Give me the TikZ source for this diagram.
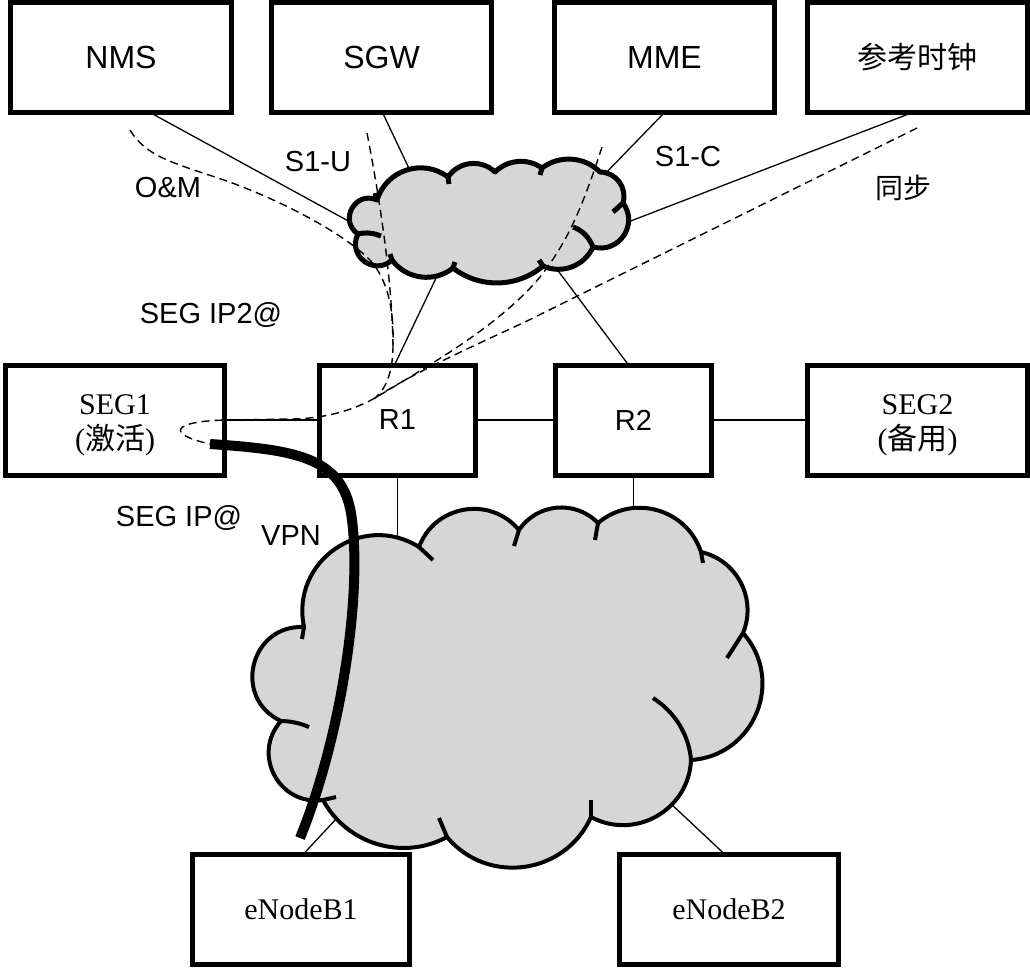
\documentclass[tikz,border=0pt]{standalone}
\usepackage{fontspec}
\setmainfont{Liberation Serif}
\setsansfont{Liberation Sans}
\newfontfamily\cjk{Noto Sans CJK SC}
\usetikzlibrary{calc}
\definecolor{cloudgray}{gray}{0.84}
\tikzset{
  bump/.code={\pgfmathsetmacro\bumpL{0.851/(cos(#1/2)^2)}%
    \edef\bumptmp{\noexpand\pgfkeysalso{bend left=#1,looseness=\bumpL}}\bumptmp},
  box/.style={draw, line width=5pt, inner sep=0pt, outer sep=0pt,
    minimum width=#1, minimum height=110pt, align=center},
  bigsans/.style={font=\sffamily\fontsize{32}{38}\selectfont},
  sans/.style={font=\sffamily\fontsize{29}{34}\selectfont},
  serif/.style={font=\fontsize{30}{35}\selectfont},
  twoline/.style={label={[serif, align=center, yshift=-5pt]center:#1}},
  cn/.style={font=\cjk\fontsize{28}{34}\selectfont},
  link/.style={line width=1.3pt},
  dsh/.style={line width=1.4pt, dash pattern=on 8pt off 5pt},
  vpn/.style={line width=10pt},
  cloudA/.style={draw, fill=cloudgray, line width=5pt, line join=round},
  cloudB/.style={draw, fill=cloudgray, line width=4pt, line join=round},
  stubA/.style={line width=5pt},
  stubB/.style={line width=4pt},
}
\begin{document}
\begin{tikzpicture}[x=1pt,y=-1pt]
\fill[white] (0,0) rectangle (1030,967);
\useasboundingbox (0,0) rectangle (1030,967);

% ---------- boxes ----------
\node[box=221pt, bigsans] (NMS) at (121,57.5) {NMS};
\node[box=220pt, bigsans] (SGW) at (381.5,57.5) {SGW};
\node[box=220pt, bigsans] (MME) at (664.5,57.5) {MME};
\node[box=220pt, font=\cjk\fontsize{30}{36}\selectfont] (CLK) at (917.5,57.5) {参考时钟};
\node[box=219pt, twoline={SEG1\\({\cjk 激活})}] (SEG1) at (115,420) {};
\node[box=156pt, sans] (R1) at (397.5,420) {R1};
\node[box=156pt, sans] (R2) at (633.5,420) {R2};
\node[box=220pt, twoline={SEG2\\({\cjk 备用})}] (SEG2) at (917.5,420) {};
\node[box=217pt, serif] (ENB1) at (301,909.5) {eNodeB1};
\node[box=219pt, serif] (ENB2) at (729,909.5) {eNodeB2};

% ---------- cloud attachment points ----------
\coordinate (tcNMS) at (352,223);
\coordinate (tcSGW) at (414,179);
\coordinate (tcMME) at (600,179);
\coordinate (tcCLK) at (628,222);
\coordinate (tcR1) at (438,274);
\coordinate (tcR2) at (553,264);
\coordinate (bcR1) at (397.5,546);
\coordinate (bcR2) at (633.5,512);
\coordinate (bcE1) at (337,818);
\coordinate (bcE2) at (670,803);

% ---------- thin links ----------
\draw[link] ([xshift=29pt]NMS.south) -- (tcNMS);
\draw[link] ([xshift=1pt]SGW.south) -- (tcSGW);
\draw[link] (MME.south) -- (tcMME);
\draw[link] ([xshift=-5pt]CLK.south) -- (tcCLK);
\draw[link] (tcR1) -- ([xshift=-3pt]R1.north);
\draw[link] (tcR2) -- ([xshift=-5pt]R2.north);
\draw[link] (SEG1.east) -- (R1.west);
\draw[link] (R1.east) -- (R2.west);
\draw[link] (R2.east) -- (SEG2.west);
\draw[link] (R1.south) -- (bcR1);
\draw[link] (R2.south) -- (bcR2);
\draw[link] ([xshift=2pt]ENB1.north) -- (bcE1);
\draw[link] ([xshift=-4pt]ENB2.north) -- (bcE2);

% ---------- top cloud ----------
\coordinate (J1) at (377,200);
\coordinate (J2) at (448,177);
\coordinate (J3) at (495,172);
\coordinate (J4) at (542,168);
\coordinate (J5) at (600,172);
\coordinate (J6) at (623,203);
\coordinate (J7) at (593,247);
\coordinate (J8) at (543,266);
\coordinate (J9) at (453,268);
\coordinate (J10) at (392,260);
\coordinate (J11) at (358,234);
\draw[cloudA] (J1) to[bump=55] (J2) to[bump=50] (J3) to[bump=40] (J4)
  to[bump=41] (J5) to[bump=53] (J6) to[bump=71] (J7) to[bump=45] (J8)
  to[bump=39] (J9) to[bump=46] (J10) to[bump=80] (J11) to[bump=85] (J1) -- cycle;
\draw[stubA] (J11) .. controls (366,232) and (374,233) .. (381,236);
\draw[stubA] (J6) -- (613,212);
\draw[stubA] (J7) .. controls (589,237) and (582,230) .. (573,227);
\draw[stubA] (J1) -- (375,193);
\draw[stubA] (J2) -- (449,184);
\draw[stubA] (J4) -- (540,175);
\draw[stubA] (J8) -- (539,260);
\draw[stubA] (J9) -- (455,262);
\draw[stubA] (J10) -- (390,254);

% ---------- bottom cloud ----------
\coordinate (K1) at (304,627);
\coordinate (K2) at (419,547);
\coordinate (K3) at (519,530);
\coordinate (K4) at (598,523);
\coordinate (K5) at (701,552);
\coordinate (K6) at (743,633);
\coordinate (K7) at (691,760);
\coordinate (K8) at (591,817);
\coordinate (K9) at (447,837);
\coordinate (K10) at (323,800);
\coordinate (K11) at (281,721);
\draw[cloudB] (K1) to[bump=67] (K2) to[bump=60] (K3) to[bump=51] (K4)
  to[bump=56] (K5) to[bump=50] (K6) to[bump=64] (K7) to[bump=58] (K8)
  to[bump=58] (K9) to[bump=45] (K10) to[bump=70] (K11) to[bump=79] (K1) -- cycle;
\draw[stubB] (K1) -- (302,639);
\draw[stubB] (K2) -- (433,560);
\draw[stubB] (K3) -- (514,546);
\draw[stubB] (K4) -- (595,540);
\draw[stubB] (K5) -- (703,563);
\draw[stubB] (K6) -- (727,658);
\draw[stubB] (K7) .. controls (689,735) and (675,712) .. (653,698);
\draw[stubB] (K8) -- (591,800);
\draw[stubB] (K9) -- (439,818);
\draw[stubB] (K10) -- (336,797);
\draw[stubB] (K11) .. controls (292,721) and (302,724) .. (309,727);

% ---------- dashed paths ----------
\coordinate (om0) at (130,130);
\coordinate (su0) at (367,133);
\coordinate (sc0) at (602,147);
\coordinate (sy0) at (917,128);
\coordinate (m1) at (393,345);
\coordinate (m) at (375,398);
\coordinate (vpn0) at (210,444);
\coordinate (vpn1) at (300,838);
\draw[dsh] (om0) .. controls (145,155) and (170,162) .. (215,177)
  .. controls (270,195) and (340,230) .. (370,260)
  .. controls (388,280) and (394,310) .. (m1);
\draw[dsh] (su0) .. controls (380,200) and (392,280) .. (m1);
\draw[dsh] (m1) .. controls (393,370) and (387,388) .. (m);
\draw[dsh] (sc0) .. controls (580,215) and (565,245) .. (540,277)
  .. controls (500,325) and (430,365) .. (m);
\draw[dsh] (sy0) -- (525,322) .. controls (460,352) and (410,375) .. (m);
\draw[dsh] (m) .. controls (350,412) and (320,419) .. (290,419) -- (227,420)
  .. controls (172,421) and (165,434) .. (vpn0);

% ---------- VPN tunnel ----------
\draw[vpn] (vpn0) .. controls (300,450) and (345,458) .. (352,520)
  .. controls (362,600) and (340,740) .. (vpn1);

% ---------- labels ----------
\node[sans] (lOM) at (168,188) {O\&M};
\node[sans] (lS1U) at (318,162) {S1-U};
\node[sans] (lS1C) at (688,157) {S1-C};
\node[cn] (lSYN) at (903,188) {同步};
\node[sans] (lIP2) at (211,315) {SEG IP2@};
\node[sans] (lIP) at (179,518) {SEG IP@};
\node[sans] (lVPN) at (291,536) {VPN};
\end{tikzpicture}
\end{document}
